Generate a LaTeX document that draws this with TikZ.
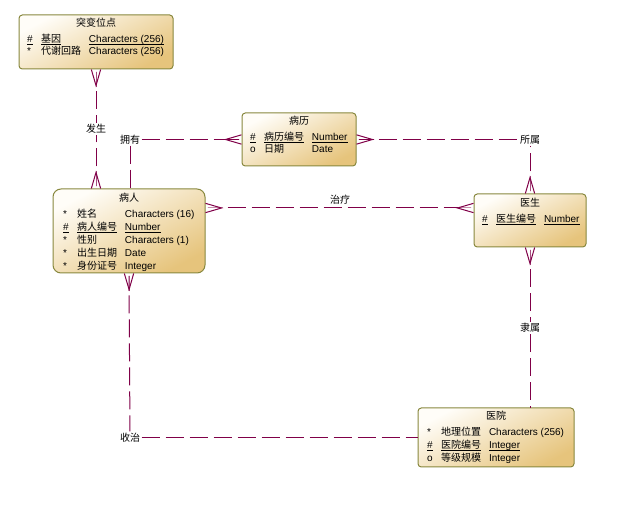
\documentclass[tikz,border=0pt]{standalone}
\usepackage{fontspec}
\usepackage{array}
\setmainfont{Liberation Sans}
\newfontfamily\cjk{Noto Sans CJK SC}
\usetikzlibrary{arrows.meta}
\definecolor{edgeolive}{RGB}{136,136,62}
\definecolor{linepurple}{RGB}{128,0,72}
\definecolor{boxlight}{RGB}{255,253,248}
\definecolor{boxdark}{RGB}{230,196,124}
\newcommand{\zh}[1]{{\cjk #1}}
\newcommand{\ul}[1]{\smash{\underline{\raisebox{0pt}[0pt][0.5pt]{#1}}}}
\newenvironment{attrs}{\fontsize{7.5}{9.75}\selectfont\begin{tabular}{@{}p{10.5pt}@{}p{36pt}@{}l@{}}}{\end{tabular}}
\tikzset{
  entity/.style={draw=edgeolive, line width=0.75pt, inner sep=0pt, outer sep=0pt,
    top color=boxlight, bottom color=boxdark, shading angle=28, rounded corners=2.5pt},
  title/.style={font=\fontsize{7.5}{9}\selectfont\cjk, inner sep=0pt},
  attrlist/.style={anchor=north west, inner sep=0pt, outer sep=0pt},
  rel/.style={font=\fontsize{7.5}{9}\selectfont\cjk, inner sep=1pt},
  link/.style={draw=linepurple, line width=0.75pt, dash pattern=on 13.5pt off 4.5pt},
  fromtip/.style={dash phase=13.5pt},
  crow/.tip={Rectangle[length=12pt, width=0.75pt, sep=-12pt] Straight Barb[reversed, length=12pt, width=7pt, line width=0.75pt]}
}
\begin{document}
\begin{tikzpicture}[x=0.75pt, y=-0.75pt]
  \useasboundingbox (0,0) rectangle (619,506);
  % entities
  \node [entity, minimum width=115.5pt, minimum height=40.5pt] (mutation) at (96,42) {};
  \node [entity, minimum width=114pt, minimum height=63pt, rounded corners=6pt] (patient) at (129,231) {};
  \node [entity, minimum width=85.5pt, minimum height=39.75pt] (record) at (299,139.5) {};
  \node [entity, minimum width=84pt, minimum height=39.75pt] (doctor) at (530,220.5) {};
  \node [entity, minimum width=117pt, minimum height=44.25pt] (hospital) at (496,437.5) {};
  % titles
  \node [title] (mutationtitle) at (96,23) {突变位点};
  \node [title] (patienttitle) at (129,198) {病人};
  \node [title] (recordtitle) at (299,121) {病历};
  \node [title] (doctortitle) at (530,203) {医生};
  \node [title] (hospitaltitle) at (496,416) {医院};
  % attributes
  \node [attrlist] (mutationattrs) at (27,33) {\begin{attrs}
    \ul{\#} & \ul{\zh{基因}} & \ul{Characters (256)} \\[-0.4pt]
    {*} & \zh{代谢回路} & Characters (256)
  \end{attrs}};
  \node [attrlist] (patientattrs) at (63,208) {\begin{attrs}
    {*} & \zh{姓名} & Characters (16) \\
    \ul{\#} & \ul{\zh{病人编号}} & \ul{Number} \\
    {*} & \zh{性别} & Characters (1) \\
    {*} & \zh{出生日期} & Date \\
    {*} & \zh{身份证号} & Integer
  \end{attrs}};
  \node [attrlist] (recordattrs) at (250,131) {\begin{attrs}
    \ul{\#} & \ul{\zh{病历编号}} & \ul{Number} \\[-0.75pt]
    o & \zh{日期} & Date
  \end{attrs}};
  \node [attrlist] (doctorattrs) at (482,213) {\begin{attrs}
    \ul{\#} & \ul{\zh{医生编号}} & \ul{Number}
  \end{attrs}};
  \node [attrlist] (hospitalattrs) at (427,426) {\begin{attrs}
    {*} & \zh{地理位置} & Characters (256) \\
    \ul{\#} & \ul{\zh{医院编号}} & \ul{Integer} \\
    o & \zh{等级规模} & Integer
  \end{attrs}};
  % relationship labels
  \node [rel] (occur) at (96,129) {发生};
  \node [rel] (own) at (130,139.5) {拥有};
  \node [rel] (belong) at (530,139.5) {所属};
  \node [rel] (treat) at (340,200) {治疗};
  \node [rel] (attach) at (530,328) {隶属};
  \node [rel] (admit) at (130,437.5) {收治};
  \coordinate (treatline) at (340,208);
  % connectors
  \draw [link, fromtip, crow-] (mutation.south) -- (occur);
  \draw [link, fromtip, crow-] (patient.north -| occur) -- (occur);
  \draw [link] (own) -- (patient.north -| own);
  \draw [link, -crow] (own) -- (record.west);
  \draw [link, fromtip, crow-] (record.east) -- (belong);
  \draw [link, fromtip, crow-] (doctor.north) -- (belong);
  \draw [link, fromtip, crow-crow] (treatline -| patient.east) -- (treatline -| doctor.west);
  \draw [link, fromtip, crow-] (doctor.south) -- (attach);
  \draw [link] (attach) -- (hospital.north -| attach);
  \draw [link, fromtip, crow-] (patient.south) -- (admit);
  \draw [link] (admit) -- (hospital.west);
\end{tikzpicture}
\end{document}
